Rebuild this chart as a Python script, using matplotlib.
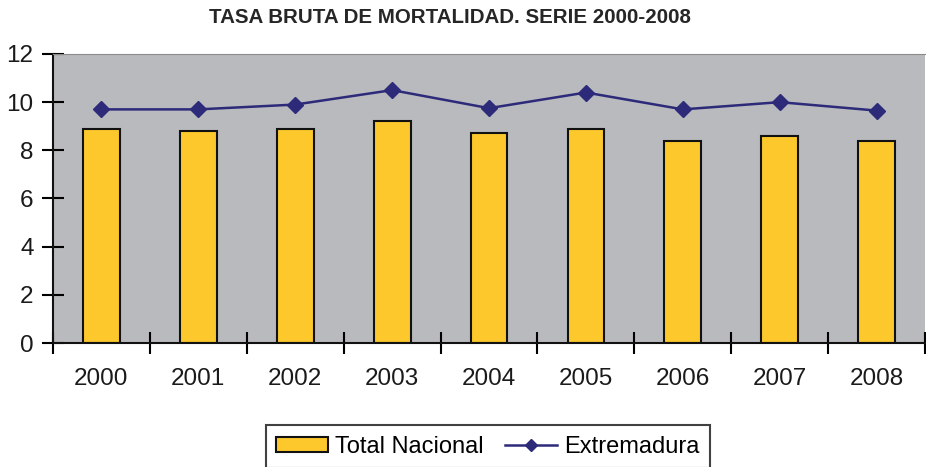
import matplotlib.pyplot as plt
import numpy as np

years = ['2000', '2001', '2002', '2003', '2004', '2005', '2006', '2007', '2008']
total_nacional = [8.9, 8.8, 8.9, 9.2, 8.7, 8.9, 8.4, 8.6, 8.4]
extremadura = [9.7, 9.7, 9.9, 10.5, 9.75, 10.4, 9.7, 10.0, 9.65]

plt.rcParams['font.family'] = ['Liberation Sans', 'DejaVu Sans']

fig = plt.figure(figsize=(9.26, 4.67), dpi=100)
ax = fig.add_axes([0.0572, 0.2655, 0.9418, 0.6189])

x = np.arange(len(years))
ax.set_facecolor('#b9babe')
bars = ax.bar(x, total_nacional, width=0.38, color='#fcc82c', edgecolor='#111111',
              linewidth=1.5, label='Total Nacional', zorder=2)
line, = ax.plot(x, extremadura, color='#2d2a7a', linewidth=1.8, marker='D',
                markersize=8, label='Extremadura', zorder=3)

ax.set_xlim(-0.5, len(years) - 0.5)
ax.set_ylim(0, 12)
ax.set_yticks(range(0, 13, 2))

# category boundaries carry the ticks, labels sit in the middle
ax.set_xticks(np.arange(-0.5, len(years), 1.0))
ax.set_xticklabels([])
ax.set_xticks(x, minor=True)
ax.set_xticklabels(years, minor=True)
ax.tick_params(axis='x', which='major', direction='inout', length=16, width=1.5)
ax.tick_params(axis='x', which='minor', length=0, pad=18, labelsize=17.5, labelcolor='#1a1a1a')
ax.tick_params(axis='y', direction='inout', length=16, width=1.5, pad=6,
               labelsize=17.5, labelcolor='#1a1a1a')

for side in ['left', 'bottom']:
    ax.spines[side].set_linewidth(1.5)
    ax.spines[side].set_color('#111111')
ax.spines['top'].set_color('#8a8a8a')
ax.spines['right'].set_visible(False)

fig.text(0.486, 0.962, 'TASA BRUTA DE MORTALIDAD. SERIE 2000-2008',
         ha='center', va='center', fontsize=14.8, fontweight='bold', color='#262626')

leg = fig.legend([bars, line], ['Total Nacional', 'Extremadura'],
                 loc='upper center', bbox_to_anchor=(0.527, 0.09), borderaxespad=0,
                 ncol=2, fontsize=17, frameon=True, fancybox=False, edgecolor='#111111',
                 handlelength=2.2, handleheight=0.6, handletextpad=0.3,
                 columnspacing=0.9, borderpad=0.45, markerscale=0.8)
leg.get_frame().set_linewidth(1.5)

fig.savefig('out.png', dpi=100)
